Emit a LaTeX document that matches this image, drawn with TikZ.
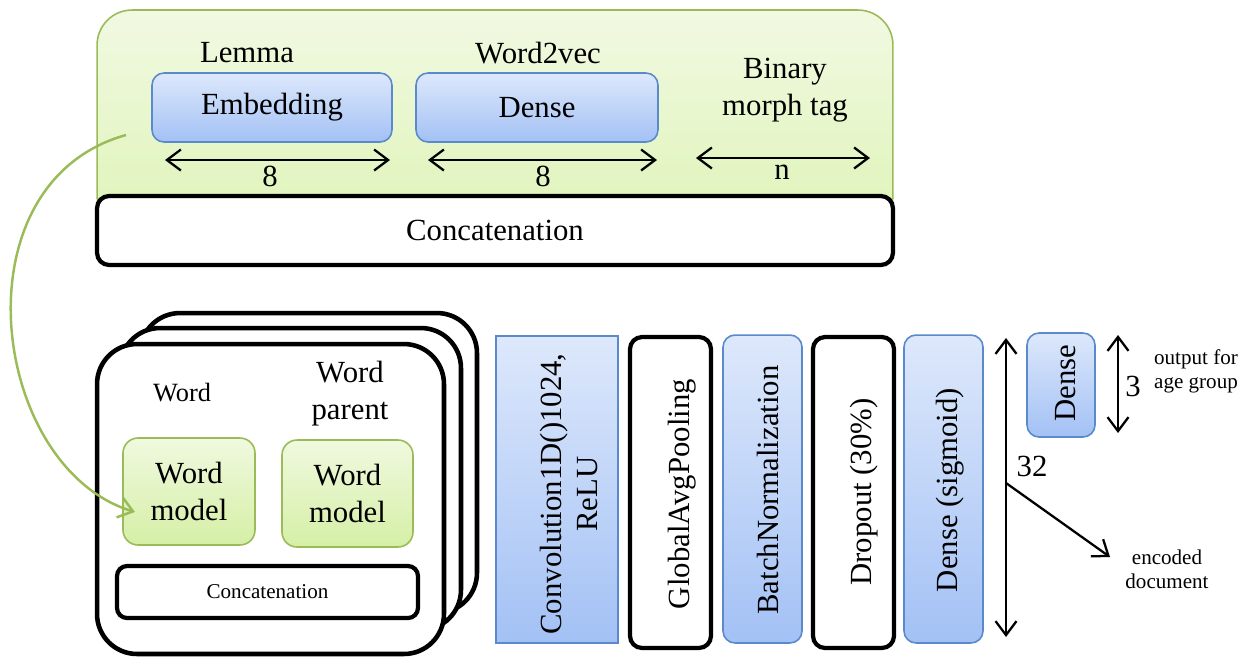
\documentclass[tikz,border=0pt]{standalone}
\usepackage{fontspec}
\setmainfont{Liberation Serif}
\usetikzlibrary{arrows.meta}
\definecolor{bluetop}{HTML}{DDE8FB}
\definecolor{bluebot}{HTML}{A3C1F5}
\definecolor{blueline}{HTML}{5A8ACB}
\definecolor{greentop}{HTML}{F0F9DF}
\definecolor{greenbot}{HTML}{D5EFA6}
\definecolor{greenline}{HTML}{9BBB59}
\definecolor{paneltop}{HTML}{F1F9E2}
\definecolor{panelbot}{HTML}{DFF4B8}
\begin{document}
\begin{tikzpicture}[x=0.02cm,y=-0.02cm,
  >={Straight Barb[length=0.28cm,width=0.42cm]},
  bluebox/.style={draw=blueline,line width=0.9pt,rounded corners=0.24cm,top color=bluetop,bottom color=bluebot},
  greenbox/.style={draw=greenline,line width=0.9pt,rounded corners=0.3cm,top color=greentop,bottom color=greenbot},
  blackbox/.style={draw=black,line width=2.4pt,rounded corners=0.24cm,fill=white},
  big/.style={font=\fontsize{17.5}{21}\selectfont},
  small/.style={font=\fontsize{12}{13.7}\selectfont},
  dim/.style={line width=1.3pt}]
\useasboundingbox (0,0) rectangle (1250,657);

% word features
\node[draw=greenline,line width=0.9pt,rounded corners=0.7cm,top color=paneltop,bottom color=panelbot,minimum width=15.92cm,minimum height=4.4cm] (panel) at (495,120) {};
\node[blackbox,big,minimum width=15.92cm,minimum height=1.38cm] (concat) at (495,230.5) {Concatenation};
\node[bluebox,big,minimum width=4.8cm,minimum height=1.38cm] (emb) at (272,107.5) {Embedding};
\node[bluebox,big,minimum width=4.84cm,minimum height=1.38cm] (dense) at (537,107.5) {Dense};
\node[big] (lemma) at (247,53) {Lemma};
\node[big] (w2v) at (538,53) {Word2vec};
\node[big,align=center] (morph) at (785,90) {Binary\\morph tag};
\coordinate (emb-l) at (165,160); \coordinate (emb-r) at (390,160);
\coordinate (dense-l) at (428,160); \coordinate (dense-r) at (657,160);
\coordinate (morph-l) at (696,158); \coordinate (morph-r) at (870,158);
\draw[<->,dim] (emb-l) -- (emb-r);
\draw[<->,dim] (dense-l) -- (dense-r);
\draw[<->,dim] (morph-l) -- (morph-r);
\node[big] (embdim) at (270,176) {8};
\node[big] (densedim) at (543,176) {8};
\node[big] (morphdim) at (782,172) {n};

% stacked word blocks
\node[blackbox,line width=2.6pt,rounded corners=0.8cm,minimum width=6.74cm,minimum height=6cm] (stack3) at (308.5,463) {};
\node[blackbox,line width=2.6pt,rounded corners=0.8cm,minimum width=6.82cm,minimum height=6.04cm] (stack2) at (290.5,479) {};
\node[blackbox,line width=2.6pt,rounded corners=0.8cm,minimum width=6.94cm,minimum height=6.2cm] (stack1) at (270.5,499) {};
\node[font=\fontsize{15}{17}\selectfont] (wordlbl) at (182,393) {Word};
\node[big,align=center] (parentlbl) at (350,394) {Word\\parent};
\node[greenbox,big,align=center,minimum width=2.64cm,minimum height=2.14cm] (wm1) at (189,491.5) {Word\\model};
\node[greenbox,big,align=center,minimum width=2.62cm,minimum height=2.14cm] (wm2) at (347.5,493.5) {Word\\model};
\node[blackbox,small,rounded corners=0.2cm,minimum width=6.02cm,minimum height=1.04cm] (wconcat) at (267.5,592) {Concatenation};

% document layers
\node[draw=blueline,line width=0.9pt,top color=bluetop,bottom color=bluebot,minimum width=2.44cm,minimum height=6.14cm] (conv) at (557,489.5) {};
\node[big,rotate=90,align=center,font=\fontsize{17.5}{20}\selectfont] (convtxt) at (569,494) {Convolution1D()1024,\\ReLU};
\node[blackbox,minimum width=1.62cm,minimum height=6.22cm] (gap) at (670.5,492.5) {};
\node[big,rotate=90] (gaptxt) at (682,494) {GlobalAvgPooling};
\node[bluebox,minimum width=1.58cm,minimum height=6.16cm] (bn) at (762.5,489) {};
\node[big,rotate=90] (bntxt) at (768,490) {BatchNormalization};
\node[blackbox,minimum width=1.62cm,minimum height=6.22cm] (drop) at (853.5,492.5) {};
\node[big,rotate=90] (droptxt) at (864,492) {Dropout (30\%)};
\node[bluebox,minimum width=1.58cm,minimum height=6.16cm] (dsig) at (943.5,489) {};
\node[big,rotate=90] (dsigtxt) at (950,490) {Dense (sigmoid)};

% outputs
\coordinate (enc-top) at (1006,338); \coordinate (enc-bot) at (1006,637);
\draw[<->,dim] (enc-bot) -- (enc-top);
\node[big] (encdim) at (1032,466) {32};
\coordinate (split) at (1006,483); \coordinate (enc-end) at (1110,557);
\draw[->,dim] (split) -- (enc-end);
\node[small,align=center] (enclbl) at (1167,569) {encoded\\document};
\node[bluebox,minimum width=1.36cm,minimum height=2.08cm] (outdense) at (1061,385) {};
\node[big,rotate=90] (outdensetxt) at (1066,383) {Dense};
\coordinate (age-top) at (1118,335); \coordinate (age-bot) at (1118,433);
\draw[<->,dim] (age-bot) -- (age-top);
\node[big] (agedim) at (1133,386) {3};
\node[small,align=center] (agelbl) at (1196,371) {output for\\age group};

% word model feeds from the panel
\coordinate (feed) at (126,135); \coordinate (feed-end) at (135,512);
\draw[->,greenline,line width=1.4pt] (feed) .. controls (-46,183) and (-10,468) .. (feed-end);
\end{tikzpicture}
\end{document}
